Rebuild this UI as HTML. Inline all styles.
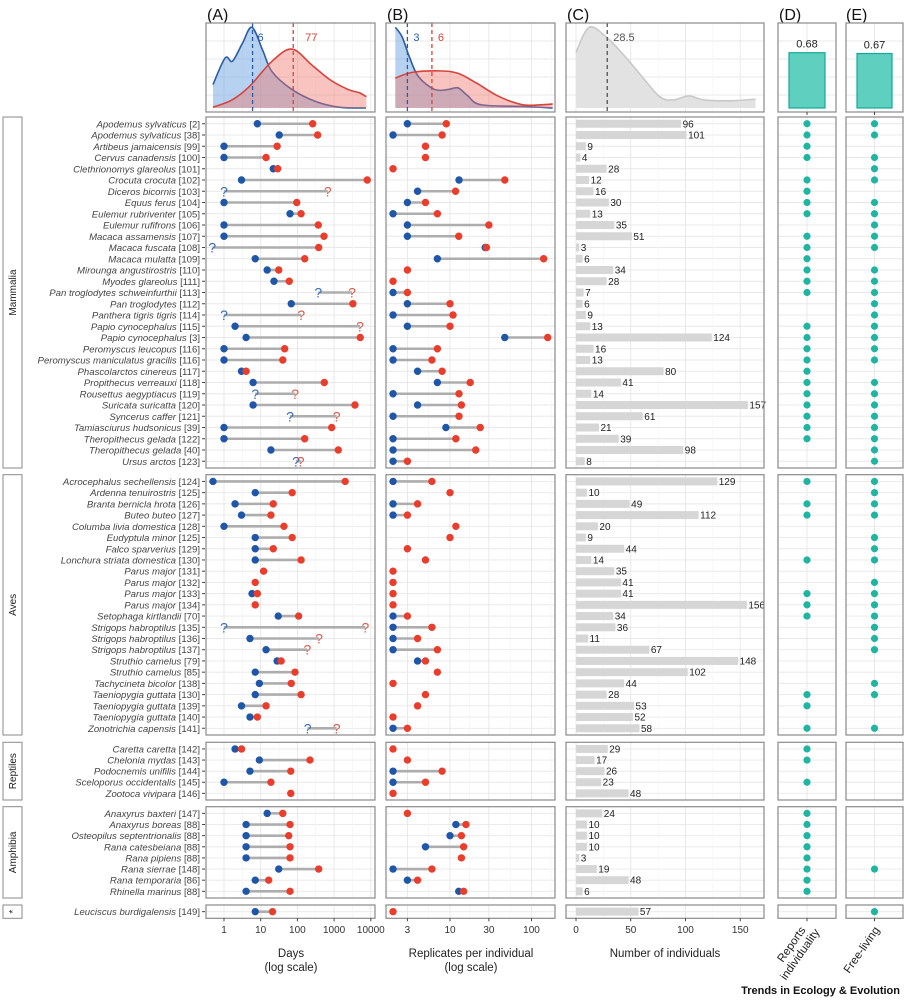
<!DOCTYPE html>
<html><head><meta charset="utf-8">
<style>
html,body{margin:0;padding:0;background:#fff;}
svg{display:block;font-family:"Liberation Sans",sans-serif;}
</style></head>
<body>
<svg id="chart" width="904" height="1000" viewBox="0 0 904 1000" xmlns="http://www.w3.org/2000/svg">
<text x="900" y="994" text-anchor="end" font-size="11" font-weight="bold" fill="#111">Trends in Ecology &amp; Evolution</text>
</svg>
<script>
// ---------- data ----------
const facetNames = ["Mammalia","Aves","Reptiles","Amphibia","*"];
const mamSpecies = ["Apodemus sylvaticus","Apodemus sylvaticus","Artibeus jamaicensis","Cervus canadensis","Clethrionomys glareolus","Crocuta crocuta","Diceros bicornis","Equus ferus","Eulemur rubriventer","Eulemur rufifrons","Macaca assamensis","Macaca fuscata","Macaca mulatta","Mirounga angustirostris","Myodes glareolus","Pan troglodytes schweinfurthii","Pan troglodytes","Panthera tigris tigris","Papio cynocephalus","Papio cynocephalus","Peromyscus leucopus","Peromyscus maniculatus gracilis","Phascolarctos cinereus","Propithecus verreauxi","Rousettus aegyptiacus","Suricata suricatta","Syncerus caffer","Tamiasciurus hudsonicus","Theropithecus gelada","Theropithecus gelada","Ursus arctos"];
const mamRefs = [2,38,99,100,101,102,103,104,105,106,107,108,109,110,111,113,112,114,115,3,116,116,117,118,119,120,121,39,122,40,123];
const mamDaysStart = [8.1,32,1,1,22,3,1,1,63,1,1,0.48,7.1,15,23,370,68,1,2,4,1,1,3,6.2,7.1,6.2,63,1,1,19,92];
const mamDaysEnd = [261,356,28,14,29,8000,670,96,126,370,530,380,158,31,60,3070,3250,128,5100,5150,45,40,4,540,87,3700,1170,860,158,1300,123];
const mamStartUnknown = [6,11,15,17,24,26,30];
const mamEndUnknown = [6,15,17,18,24,26,30];
const mamRepStart = [3,2,null,null,null,12.9,4,3,2,3,3,27,7,null,null,2,3,2,3,47,2,2,4,7,2,4,2,8.9,2,2,2];
const mamRepEnd = [9,8,5,5,2,47,11.7,5,7,30,12.8,28,141,3,2,3,10,10.9,10,158,7,6,8,17.7,12.9,13.8,12.9,23.5,11.8,20.7,3];
const mamCounts = [96,101,9,4,28,12,16,30,13,35,51,3,6,34,28,7,6,9,13,124,16,13,80,41,14,157,61,21,39,98,8];
const mamIndiv = [1,1,1,1,0,1,1,1,1,0,1,1,1,1,1,1,0,0,1,1,1,1,1,1,1,1,1,1,1,0,0];
const mamWild = [1,1,0,1,1,1,0,1,1,1,1,1,0,1,1,1,1,1,1,1,1,1,0,1,1,1,1,1,1,1,1];

const avesSpecies = ["Acrocephalus sechellensis","Ardenna tenuirostris","Branta bernicla hrota","Buteo buteo","Columba livia domestica","Eudyptula minor","Falco sparverius","Lonchura striata domestica","Parus major","Parus major","Parus major","Parus major","Setophaga kirtlandii","Strigops habroptilus","Strigops habroptilus","Strigops habroptilus","Struthio camelus","Struthio camelus","Tachycineta bicolor","Taeniopygia guttata","Taeniopygia guttata","Taeniopygia guttata","Zonotrichia capensis"];
const avesRefs = [124,125,126,127,128,125,129,130,131,132,133,134,70,135,136,137,79,85,138,130,139,140,141];
const avesDaysStart = [0.5,7.1,2,3,1,7.1,7.1,7.1,null,null,5.8,null,30,1,5.1,14,28,7.1,9.2,7.1,3,5.1,190];
const avesDaysEnd = [2000,72,22,19,43,72,22,126,12,7.1,8.1,7.1,108,7100,390,187,36,86,68,126,14,8.1,1170];
const avesStartUnknown = [13,22];
const avesEndUnknown = [13,14,15,22];
const avesRepStart = [2,null,2,2,null,null,null,null,null,null,null,null,2,2,2,2,4,null,null,null,null,null,2];
const avesRepEnd = [6,10,4,3,11.8,10,3,5,2,2,2,2,3,6,4,7,5,7,2,5,4,2,3];
const avesCounts = [129,10,49,112,20,9,44,14,35,41,41,156,34,36,11,67,148,102,44,28,53,52,58];
const avesIndiv = [1,0,1,1,0,0,0,1,0,0,1,1,1,0,0,0,0,0,0,1,1,0,1];
const avesWild = [1,1,1,1,0,1,1,1,0,1,1,1,1,1,1,1,0,0,1,1,0,0,1];

const reptSpecies = ["Caretta caretta","Chelonia mydas","Podocnemis unifilis","Sceloporus occidentalis","Zootoca vivipara"];
const reptRefs = [142,143,144,145,146];
const reptDaysStart = [2,9.2,5.1,1,null];
const reptDaysEnd = [3,220,66,19,66];
const reptRepStart = [null,null,2,2,null];
const reptRepEnd = [2,3,8,5,2];
const reptCounts = [29,17,26,23,48];
const reptIndiv = [1,1,0,1,0];
const reptWild = [0,0,0,0,0];

const amphSpecies = ["Anaxyrus baxteri","Anaxyrus boreas","Osteopilus septentrionalis","Rana catesbeiana","Rana pipiens","Rana sierrae","Rana temporaria","Rhinella marinus"];
const amphRefs = [147,88,88,88,88,148,86,88];
const amphDaysStart = [15,4,4,4,4,31,7.1,4];
const amphDaysEnd = [40,63,58,63,63,380,16.5,63];
const amphRepStart = [null,11.8,10,5,null,2,3,12.8];
const amphRepEnd = [3,15.7,13.8,14.7,13.8,6,4,14.7];
const amphCounts = [24,10,10,10,3,19,48,6];
const amphIndiv = [1,1,1,1,1,1,1,1];
const amphWild = [0,0,0,0,0,1,0,0];

const fishSpecies = ["Leuciscus burdigalensis"];
const fishRefs = [149];
const fishDaysStart = [7.1];
const fishDaysEnd = [21];
const fishRepStart = [null];
const fishRepEnd = [2];
const fishCounts = [57];
const fishIndiv = [0];
const fishWild = [1];

// density summaries (top row)
const daysDensLog = [-0.3,0.03,0.23,0.5,0.76,1.05,1.31,1.85,2.5,3.13,3.87];
const daysDensFirst = [0.29,0.62,0.58,0.8,1.0,0.72,0.45,0.23,0.08,0.01,0.0];
const daysDensLogR = [-0.3,0.22,0.7,1.31,1.85,2.4,2.89,3.38,3.68,3.88];
const daysDensLast = [0.01,0.1,0.27,0.58,0.73,0.53,0.35,0.23,0.19,0.14];
const repDensLog = [0.329,0.413,0.499,0.612,0.811,0.982,1.096,1.209,1.379,1.891,2.26];
const repDensFirst = [1.0,0.88,0.64,0.39,0.23,0.23,0.25,0.16,0.04,0.02,0.0];
const repDensLogR = [0.329,0.528,0.868,1.096,1.323,1.606,1.891,2.117,2.26];
const repDensLast = [0.37,0.44,0.46,0.43,0.31,0.14,0.04,0.04,0.05];
const countDensX = [0,12,27.6,44,60.2,76.5,88.7,103,117,141.6,164];
const countDensY = [0.69,1.0,0.88,0.65,0.39,0.14,0.1,0.15,0.1,0.09,0.11];
const medianDays = [6,77];
const medianReps = [3,6];
const medianCount = [28.5];
const propIndiv = [0.68];
const propWild = [0.67];
const daysTicks = [1,10,100,1000,10000];
const repTicks = [3,10,30,100];
const countTicks = [0,50,100,150];

// ---------- scales / layout ----------
const NS = "http://www.w3.org/2000/svg";
const svg = document.getElementById("chart");
const xA = v => 224 + 36.7*Math.log10(v);
const xAlog = l => 224 + 36.7*l;
const xB = v => 450 + 81.5*(Math.log10(v)-1);
const xBlog = l => 450 + 81.5*(l-1);
const xC = v => 576 + 1.095*v;
const PA=[206,375], PB=[386,555], PC=[566,764], PD=[778,836], PE=[846,903];
const TOP=[23,112], BASE=108, HMAX=80.7;
const facets = [
 {name:facetNames[0],top:117,bottom:468,sp:mamSpecies,refs:mamRefs,ds:mamDaysStart,de:mamDaysEnd,su:mamStartUnknown,eu:mamEndUnknown,rs:mamRepStart,re:mamRepEnd,n:mamCounts,ind:mamIndiv,wild:mamWild},
 {name:facetNames[1],top:474.7,bottom:735,sp:avesSpecies,refs:avesRefs,ds:avesDaysStart,de:avesDaysEnd,su:avesStartUnknown,eu:avesEndUnknown,rs:avesRepStart,re:avesRepEnd,n:avesCounts,ind:avesIndiv,wild:avesWild},
 {name:facetNames[2],top:742.3,bottom:800,sp:reptSpecies,refs:reptRefs,ds:reptDaysStart,de:reptDaysEnd,su:[],eu:[],rs:reptRepStart,re:reptRepEnd,n:reptCounts,ind:reptIndiv,wild:reptWild},
 {name:facetNames[3],top:806.7,bottom:898,sp:amphSpecies,refs:amphRefs,ds:amphDaysStart,de:amphDaysEnd,su:[],eu:[],rs:amphRepStart,re:amphRepEnd,n:amphCounts,ind:amphIndiv,wild:amphWild},
 {name:facetNames[4],top:905,bottom:918.3,sp:fishSpecies,refs:fishRefs,ds:fishDaysStart,de:fishDaysEnd,su:[],eu:[],rs:fishRepStart,re:fishRepEnd,n:fishCounts,ind:fishIndiv,wild:fishWild}
];
const BLUE="#1f56a8", RED="#ea3d2b", SEG="#adadad", TEAL="#1fb5a3";

function mk(tag, attrs, parent){
  const e=document.createElementNS(NS,tag);
  for(const k in attrs) e.setAttribute(k,attrs[k]);
  (parent||svg).appendChild(e);
  return e;
}
function smooth(pts){
  let d="M"+pts[0][0]+","+pts[0][1];
  for(let i=0;i<pts.length-1;i++){
    const p0=pts[Math.max(0,i-1)],p1=pts[i],p2=pts[i+1],p3=pts[Math.min(pts.length-1,i+2)];
    const c1=[p1[0]+(p2[0]-p0[0])/6,p1[1]+(p2[1]-p0[1])/6];
    const c2=[p2[0]-(p3[0]-p1[0])/6,p2[1]-(p3[1]-p1[1])/6];
    d+=" C"+c1[0]+","+c1[1]+" "+c2[0]+","+c2[1]+" "+p2[0]+","+p2[1];
  }
  return d;
}
function frame(x0,x1,y0,y1,name){
  const r=mk("rect",{x:x0,y:y0,width:x1-x0,height:y1-y0,fill:"none",stroke:"#8a8a8a","stroke-width":1.2});
  
  
}
function vgrid(x,y0,y1,major){
  const l=mk("line",{x1:x,x2:x,y1:y0,y2:y1,stroke:major?"#e6e6e6":"#f2f2f2","stroke-width":major?0.9:0.6});
  
  
}
function hgrid(x0,x1,y,major){
  const l=mk("line",{x1:x0,x2:x1,y1:y,y2:y,stroke:major?"#e8e8e8":"#f3f3f3","stroke-width":major?0.9:0.6});
  
  
}
function txt(x,y,s,attrs,name){
  const t=mk("text",Object.assign({x:x,y:y,"font-size":10,fill:"#333"},attrs||{}));
  t.textContent=s;
  
  
  return t;
}

// ---------- panel letters ----------
[["(A)",207],["(B)",387],["(C)",567],["(D)",779],["(E)",846]].forEach(p=>{
  txt(p[1],20,p[0],{"font-size":16,fill:"#111"},"panel-letter");
});

// ---------- top row ----------
function topGrid(P, vx){
  for(let k=1;k<=4;k++) hgrid(P[0],P[1],TOP[0]+k*18,true);
  vx.forEach(v=>vgrid(v[0],TOP[0],TOP[1],v[1]));
}
function densityArea(xs, ys, fill, stroke, name){
  const pts=xs.map((x,i)=>[x, BASE-ys[i]*HMAX]);
  const d=smooth(pts)+" L"+pts[pts.length-1][0]+","+BASE+" L"+pts[0][0]+","+BASE+" Z";
  const a=mk("path",{d:d,fill:fill,stroke:"none"});
  
  
  const l=mk("path",{d:smooth(pts),fill:"none",stroke:stroke,"stroke-width":1.6});
  
  
}
function minorsLog(ticks, fx){ const out=[]; ticks.forEach(t=>out.push([fx(t),true])); for(let i=0;i<ticks.length-1;i++) out.push([fx(Math.sqrt(ticks[i]*ticks[i+1])),false]); return out; }
const gridA = minorsLog(daysTicks,xA).concat([[xA(0.316),false]]);
const gridB = minorsLog(repTicks,xB).concat([[xB(1.73),false],[xB(173),false]]);
const gridC = countTicks.map(t=>[xC(t),true]).concat([25,75,125].map(t=>[xC(t),false]));

topGrid(PA, gridA);
densityArea(daysDensLog.map(xAlog), daysDensFirst, "rgba(110,165,225,0.5)", "#2a5ca8", "days-first-density");
densityArea(daysDensLogR.map(xAlog), daysDensLast, "rgba(240,115,105,0.42)", "#d8423a", "days-last-density");
medianDays.forEach((m,i)=>{
  const x=xA(m);
  const l=mk("line",{x1:x,x2:x,y1:TOP[0],y2:TOP[1],stroke:i?"#d8423a":"#2a5ca8","stroke-width":1.3,"stroke-dasharray":"4,3"});
  
  
  txt(x+(i?12:5),41,String(m),{"font-size":11,fill:i?"#d8423a":"#2a5ca8"},"median-days-label");
});
frame(PA[0],PA[1],TOP[0],TOP[1],"days-density-panel");

topGrid(PB, gridB);
densityArea(repDensLog.map(xBlog), repDensFirst, "rgba(110,165,225,0.5)", "#2a5ca8", "reps-first-density");
densityArea(repDensLogR.map(xBlog), repDensLast, "rgba(240,115,105,0.42)", "#d8423a", "reps-last-density");
medianReps.forEach((m,i)=>{
  const x=xB(m);
  const l=mk("line",{x1:x,x2:x,y1:TOP[0],y2:TOP[1],stroke:i?"#d8423a":"#2a5ca8","stroke-width":1.3,"stroke-dasharray":"4,3"});
  
  
  txt(x+6,41,String(m),{"font-size":11,fill:i?"#d8423a":"#2a5ca8"},"median-reps-label");
});
frame(PB[0],PB[1],TOP[0],TOP[1],"reps-density-panel");

topGrid(PC, gridC);
densityArea(countDensX.map(xC), countDensY, "#e2e2e2", "#c9c9c9", "count-density");
medianCount.forEach(m=>{
  const x=xC(m);
  const l=mk("line",{x1:x,x2:x,y1:TOP[0],y2:TOP[1],stroke:"#444","stroke-width":1.2,"stroke-dasharray":"4,3"});
  
  
  txt(x+6,41,String(m),{"font-size":11,fill:"#555"},"median-count-label");
});
frame(PC[0],PC[1],TOP[0],TOP[1],"count-density-panel");

[[PD,propIndiv,"individuality-proportion"],[PE,propWild,"free-living-proportion"]].forEach(q=>{
  const P=q[0];
  for(let k=1;k<=4;k++) hgrid(P[0],P[1],TOP[0]+k*18,true);
  const cx=(P[0]+P[1])/2;
  vgrid(cx,TOP[0],TOP[1],true);
  q[1].forEach(v=>{
    const y=BASE-v*81.3;
    const b=mk("rect",{x:P[0]+11,y:y,width:P[1]-P[0]-22,height:BASE-y,fill:"#5fcfc0",stroke:"#14a896","stroke-width":1.2});
    
    
    txt(cx,y-5,v.toFixed(2),{"font-size":11,fill:"#222","text-anchor":"middle"},q[2]+'-label');
  });
  frame(P[0],P[1],TOP[0],TOP[1],q[2]+"-panel");
  const t=mk("line",{x1:cx,x2:cx,y1:TOP[1],y2:TOP[1]+3,stroke:"#444"});
  
  
});

// ---------- facets ----------
facets.forEach(f=>{
  const n=f.sp.length, u=(f.bottom-f.top)/(n+0.2);
  const ry=i=>f.top+(0.6+i)*u;
  // strip
  const s=mk("rect",{x:3,y:f.top,width:19,height:f.bottom-f.top,fill:"#fff",stroke:"#8a8a8a","stroke-width":1});
  
  
  const cy=(f.top+f.bottom)/2;
  txt(16,cy,f.name,{"font-size":10,fill:"#222","text-anchor":"middle",transform:"rotate(-90 16 "+cy+")"},"facet-label");
  // grids
  [PA,PB,PC,PD,PE].forEach(P=>{ for(let i=0;i<n;i++) hgrid(P[0],P[1],ry(i),true); });
  gridA.forEach(g=>vgrid(g[0],f.top,f.bottom,g[1]));
  gridB.forEach(g=>vgrid(g[0],f.top,f.bottom,g[1]));
  gridC.forEach(g=>vgrid(g[0],f.top,f.bottom,g[1]));
  vgrid((PD[0]+PD[1])/2,f.top,f.bottom,true);
  vgrid((PE[0]+PE[1])/2,f.top,f.bottom,true);
  for(let i=0;i<n;i++){
    const y=ry(i);
    // label
    const t=mk("text",{x:200,y:y+3.5,"font-size":9.6,fill:"#444","text-anchor":"end"});
    
    
    const it=mk("tspan",{"font-style":"italic"},t); it.textContent=f.sp[i];
    const rf=mk("tspan",{},t); rf.textContent=" ["+f.refs[i]+"]";
    const tk=mk("line",{x1:202,x2:205,y1:y,y2:y,stroke:"#444"});
    
    
    // panel A
    drawPair(f.ds[i], f.de[i], xA, y, f.su.indexOf(i)>=0, f.eu.indexOf(i)>=0, "days");
    drawPair(f.rs[i], f.re[i], xB, y, false, false, "reps");
    // panel C
    const b=mk("rect",{x:xC(0),y:y-4,width:xC(f.n[i])-xC(0),height:8,fill:"#d6d6d6"});
    
    
    txt(xC(f.n[i])+1.5,y+3.5,String(f.n[i]),{"font-size":10,fill:"#222"},"count-label");
    if(f.ind[i]){ const c=mk("circle",{cx:(PD[0]+PD[1])/2,cy:y,r:3.6,fill:TEAL});   }
    if(f.wild[i]){ const c=mk("circle",{cx:(PE[0]+PE[1])/2,cy:y,r:3.6,fill:TEAL});   }
  }
  frame(PA[0],PA[1],f.top,f.bottom,"days-panel");
  frame(PB[0],PB[1],f.top,f.bottom,"reps-panel");
  frame(PC[0],PC[1],f.top,f.bottom,"count-panel");
  frame(PD[0],PD[1],f.top,f.bottom,"individuality-panel");
  frame(PE[0],PE[1],f.top,f.bottom,"free-living-panel");
});

function drawPair(a,b,fx,y,ua,ub,name){
  if(a!=null && b!=null){
    const s=mk("line",{x1:fx(a),x2:fx(b),y1:y,y2:y,stroke:SEG,"stroke-width":2.6});
    
    
  }
  [[a,ua,BLUE,"#3a6db3","first"],[b,ub,RED,"#dd5a48","last"]].forEach(p=>{
    if(p[0]==null) return;
    if(p[1]){
      const q=mk("text",{x:fx(p[0]),y:y+5,"font-size":14,fill:p[3],"text-anchor":"middle"});
      q.textContent="?";
      
      
    } else {
      const c=mk("circle",{cx:fx(p[0]),cy:y,r:3.7,fill:p[2]});
      
      
    }
  });
}

// ---------- bottom axes ----------
const AXY=918.3;
function xtick(x,label,name){
  const t=mk("line",{x1:x,x2:x,y1:AXY,y2:AXY+3,stroke:"#444"});
  
  
  txt(x,933,label,{"font-size":10,fill:"#333","text-anchor":"middle"},name);
}
daysTicks.forEach(v=>xtick(xA(v),String(v),"days-tick-label"));
repTicks.forEach(v=>xtick(xB(v),String(v),"reps-tick-label"));
countTicks.forEach(v=>xtick(xC(v),String(v),"count-tick-label"));
[PD,PE].forEach(P=>{ const x=(P[0]+P[1])/2; const t=mk("line",{x1:x,x2:x,y1:AXY,y2:AXY+3,stroke:"#444"});   });
txt(291,957,"Days",{"font-size":11.5,fill:"#222","text-anchor":"middle"},"days-axis-title");
txt(291,971,"(log scale)",{"font-size":11.5,fill:"#222","text-anchor":"middle"},"days-axis-subtitle");
txt(471,957,"Replicates per individual",{"font-size":11.5,fill:"#222","text-anchor":"middle"},"reps-axis-title");
txt(471,971,"(log scale)",{"font-size":11.5,fill:"#222","text-anchor":"middle"},"reps-axis-subtitle");
txt(665,957,"Number of individuals",{"font-size":11.5,fill:"#222","text-anchor":"middle"},"count-axis-title");
txt(806,930,"Reports",{"font-size":11.5,fill:"#222","text-anchor":"end",transform:"rotate(-55 806 930)"},"individuality-axis-title");
txt(820,932,"individuality",{"font-size":11.5,fill:"#222","text-anchor":"end",transform:"rotate(-55 820 932)"},"individuality-axis-title-2");
txt(880,930,"Free-living",{"font-size":11.5,fill:"#222","text-anchor":"end",transform:"rotate(-55 880 930)"},"free-living-axis-title");
</script>
</body></html>
